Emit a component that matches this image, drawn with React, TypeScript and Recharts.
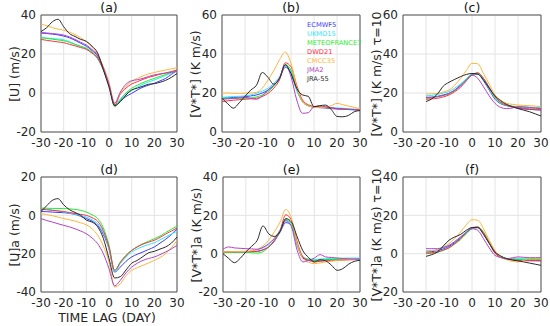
import React from "react";
import {
  CartesianGrid,
  Legend,
  Line,
  LineChart,
  ReferenceArea,
  XAxis,
  YAxis,
} from "recharts";

// lag axis (days)
const lags = [-30, -27.5, -25, -22.5, -20, -17.5, -15, -12.5, -10, -7.5, -5, -2.5, 0, 2.5, 5, 7.5, 10, 12.5, 15, 17.5, 20, 22.5, 25, 27.5, 30];
const lagsTau = [-20, -17.5, -15, -12.5, -10, -7.5, -5, -2.5, 0, 2.5, 5, 7.5, 10, 12.5, 15, 17.5, 20, 22.5, 25, 27.5, 30];
const xTicks = [-30, -20, -10, 0, 10, 20, 30];

const models = ["ECMWF5", "UKMO15", "METEOFRANCE7", "DWD21", "CMCC35", "JMA2", "JRA-55"];
const colors = ["#3b3bff", "#2ee6ff", "#1fef2a", "#ff3048", "#ffb53c", "#b443c4", "#2a2a2a"];

// rows follow the order of `models`
const uA = [
  [30.8, 30.5, 30.2, 29.8, 29.2, 28.3, 27, 25.5, 24, 21.8, 18.8, 12.5, 4, -6, -4, -1.8, -0.2, 1.5, 3, 4, 5, 6.2, 7.5, 9.5, 11.5],
  [28.5, 28.2, 27.9, 27.7, 27.3, 26.3, 25, 23.8, 22.5, 20.5, 17.5, 11.8, 4, -6.5, -3, -0.3, 1.5, 3, 4.5, 5.7, 6.7, 7.8, 9, 10.2, 11.5],
  [28.3, 28, 27.6, 27.2, 26.8, 26, 25, 24, 23, 21, 18, 12, 4, -7, -3.5, 0, 2.4, 4, 5.3, 6.5, 7.5, 8.5, 9.5, 10.6, 11.8],
  [27.5, 27, 26.6, 26.2, 25.8, 25, 24.2, 23.3, 22.4, 20.5, 17.8, 12, 4, -6.2, -0.5, 2.5, 4.6, 5.8, 7, 8, 8.8, 9.6, 10.3, 11, 11.8],
  [35.4, 34.5, 33.5, 32.8, 32.2, 31.2, 30, 28.3, 26.3, 23.5, 19.8, 13.5, 5.5, -5.2, 0, 3.5, 6, 7.5, 8.8, 9.8, 10.5, 11.2, 11.8, 12.4, 13],
  [31, 30.8, 30.5, 30.2, 29.7, 28.8, 27.5, 26, 24.6, 22.3, 19.3, 13, 4.5, -5.3, 0.5, 4.5, 6.3, 6.8, 7.5, 8.5, 9.3, 9.8, 10.2, 10.6, 11],
  [31.5, 33.5, 36.5, 37.8, 34, 30.5, 29, 27.5, 26.5, 24, 20.5, 12, 3, -6.5, -4.5, -1, 1.5, 2.5, 3.5, 4.5, 4.8, 5.5, 6.5, 8, 10],
];

const vtB = [
  [17.3, 17.5, 17.7, 17.9, 18.1, 18.5, 19, 20, 21.5, 24, 27.5, 33.2, 30, 21.5, 15.6, 13.5, 12.7, 12.5, 12.3, 12, 11.8, 11.6, 11.5, 11.4, 11.3],
  [17.8, 18, 18.2, 18.3, 18.5, 19, 19.8, 21, 22.4, 25, 28.4, 33.5, 31, 21.5, 15.6, 13.5, 13, 12.8, 12.6, 12.4, 12.3, 12.2, 12, 11.8, 11.6],
  [17.3, 17.3, 17.3, 17.3, 17.3, 17.5, 18, 19, 20.7, 23.5, 27.5, 34.7, 31.8, 22.4, 15.6, 13.5, 13, 12.7, 12.5, 12.2, 12, 11.8, 11.6, 11.5, 11.3],
  [15.6, 16, 16.3, 16.6, 16.8, 17, 17.3, 18.2, 19.8, 22.5, 26.7, 35.5, 33.5, 24, 16.4, 14, 13, 12.7, 12.5, 12.3, 12, 11.8, 11.6, 11.5, 11.3],
  [19.8, 20, 19.8, 19.8, 19.9, 20, 20.3, 22.5, 26.7, 31.5, 37, 41, 35.2, 23.2, 15.6, 13.5, 12.7, 12.5, 12.7, 13.5, 14.7, 14, 13.3, 12.6, 12],
  [16.8, 17, 17.2, 17.5, 17.8, 17.2, 16.8, 18.5, 21.5, 24, 27.5, 34.4, 28.4, 16.4, 9.6, 9.9, 13, 13.3, 13, 12.5, 12, 11.8, 11.6, 11.4, 11.3],
  [17.3, 14.5, 12.2, 15, 18.3, 21.5, 24, 30.5, 28, 24.5, 27.5, 34.4, 30, 22.4, 19, 18.3, 13, 13.5, 13.8, 11.5, 8, 7.8, 8.5, 10.4, 11],
];

const vtC = [
  [17.6, 17.8, 18.3, 19, 19.8, 21.5, 24.1, 27, 29.2, 29.6, 26.3, 21.5, 16.8, 14.5, 13.5, 12.8, 12.2, 11.8, 11.6, 11.4, 11.3],
  [18.5, 18.8, 19.3, 20, 20.7, 22.5, 24.6, 27.3, 29.6, 29.7, 26.7, 22, 17.3, 14.8, 13.8, 13.3, 13, 12.8, 12.7, 12.6, 12.5],
  [17.3, 17.6, 18.1, 18.7, 19.5, 21.2, 23.6, 26.8, 29.6, 30.1, 27.5, 22.8, 17.8, 15, 13.8, 13.1, 12.7, 12.5, 12.3, 12.1, 12],
  [16.8, 17, 17.3, 18, 19, 20.7, 22.9, 26.2, 29.2, 30.4, 27.5, 22.8, 18.1, 15.3, 13.8, 13, 12.5, 12.1, 11.8, 11.5, 11.3],
  [19.5, 19.6, 19.8, 20.5, 21.5, 24, 27.5, 31.5, 35.2, 35, 30, 24.5, 19, 16.3, 14.7, 14.2, 13.8, 13.6, 13.5, 13.3, 13],
  [17.8, 17.9, 18.1, 18.8, 19.8, 21.5, 23.6, 26.5, 29.2, 27.5, 23.2, 18.5, 14.7, 12.6, 12, 12.3, 13, 12.9, 12.6, 12.3, 12],
  [15.6, 17, 19.5, 23.5, 25.5, 27, 28.4, 29.5, 30, 29.7, 26.7, 22.5, 18.5, 16, 14.2, 13, 12, 11.2, 10.4, 9.3, 8.2],
];

const uD = [
  [2, 1.9, 1.7, 1.5, 1.4, 1, 0.5, -0.5, -1.7, -3, -5.2, -10, -17.4, -29.6, -27, -24, -21.7, -20.3, -19.1, -17.8, -16.5, -14.5, -12.5, -10, -7],
  [3.5, 3.2, 2.8, 2.3, 1.7, 1.2, 0.6, -0.1, -0.9, -2.3, -4.3, -9, -17.4, -29.6, -25.2, -21.8, -19.1, -17.5, -16.2, -15.2, -14.3, -12.8, -11.2, -9.8, -8.3],
  [3.8, 3.7, 3.6, 3.6, 3.5, 3.4, 3.1, 2.6, 1.7, 0.3, -1.7, -6.5, -15.7, -28.7, -24.3, -20.8, -18.3, -16.3, -14.8, -13.5, -12.2, -10.8, -9, -7.3, -5.6],
  [3.1, 2.9, 2.6, 2.3, 2, 1.5, 1, 0.5, 0, -1.2, -3.1, -8, -16.5, -28.7, -24.6, -21, -18.3, -16.5, -15, -14, -13, -11.5, -9.8, -8.2, -6.6],
  [0.9, 0.4, -0.2, -0.9, -1.7, -2.3, -3, -3.9, -4.9, -7, -10.4, -16, -24.3, -37.4, -35.7, -31.5, -28.7, -27.3, -26.1, -24.8, -23.5, -22, -20, -17, -13],
  [-1.7, -2.7, -3.5, -4.4, -5.2, -6, -7, -8.2, -9.6, -11.8, -14.8, -20, -27.8, -36.8, -33.9, -30, -27, -25, -23.5, -22.5, -21.7, -20.5, -19.1, -17.5, -15.7],
  [2, 5, 7.8, 8.7, 5.5, 3, 1.5, 0, -2.5, -3.5, -6, -12, -22.6, -32.7, -32, -28.5, -25, -23.5, -21.5, -19.5, -18.8, -17.6, -16.5, -14.5, -11.3],
];

const vtE = [
  [0.5, 0.7, 0.8, 0.9, 0.9, 1, 1.2, 2, 3.5, 6.5, 11.3, 16.2, 14.8, 4.3, -2.3, -3.5, -3.5, -3.3, -3.2, -3, -3, -3, -3, -2.8, -2.6],
  [0.9, 1, 1.1, 1.2, 1.2, 1.5, 2, 3, 4.7, 8, 12.2, 16.9, 14.8, 4.3, -1.7, -2.8, -3, -2.8, -2.6, -2.5, -2.4, -2.4, -2.3, -2.3, -2.3],
  [0.5, 0.6, 0.7, 0.7, 0.8, 0.5, 0.3, 1, 3.5, 7, 11.3, 17.9, 15.7, 5.2, -1.7, -3, -3.5, -3.3, -3.2, -3.1, -3, -3, -3, -3, -3],
  [0.9, 1, 1, 1, 1, 1.1, 1.2, 2, 3.5, 7, 12.2, 20.3, 17.4, 6.1, -1.7, -3.5, -4.3, -4, -3.7, -3.6, -3.5, -3.4, -3.2, -3.1, -3],
  [0.9, 1, 1.1, 1.1, 1.2, 1.5, 2.3, 4, 7, 11.5, 16.5, 23.1, 18.3, 5.2, -2.6, -4.5, -5.2, -4.8, -4.3, -3.9, -3.5, -3.3, -3.2, -3.1, -3],
  [2.3, 3.5, 3, 2.8, 2.6, 2.5, 2.3, 3.3, 5.2, 8, 12.2, 17.4, 13.9, 1.7, -4.3, -3.5, -2.3, -0.5, -1.7, -2, -2.3, -2.5, -2.7, -2.8, -3],
  [0, -2.5, -4.7, -2.5, 0.9, 3.8, 7, 14.5, 10.4, 9, 11.5, 18.3, 16.5, 8.7, 1.5, -2, -4.3, -3.2, -3.8, -6, -8.7, -7.8, -5.5, -4, -3.5],
];

const vtF = [
  [0.9, 1.1, 1.5, 2.5, 3.8, 5.8, 8.2, 11, 13.2, 13.6, 10.5, 5.5, 0.3, -1.8, -2.8, -3.1, -3.3, -3.4, -3.5, -3.5, -3.5],
  [1.4, 1.6, 2, 3, 4.3, 6.3, 8.7, 11.5, 13.6, 13.9, 11, 5.8, 0.9, -1.5, -2.4, -2.6, -2.6, -2.6, -2.6, -2.6, -2.6],
  [0, 0.2, 0.7, 1.7, 3, 5, 7.3, 10.3, 13, 13.9, 11.3, 6, 0.9, -1.6, -2.6, -3, -3.1, -3.1, -3.1, -3.1, -3.1],
  [0.3, 0.5, 0.9, 1.9, 3.1, 5.3, 7.8, 11, 13.6, 13.9, 10.8, 5.7, 0.3, -2, -2.8, -3.2, -3.5, -3.6, -3.7, -3.8, -3.8],
  [1.4, 1.6, 2.1, 3.5, 5.2, 8, 11.3, 15, 17.7, 17.4, 13, 7, 1.7, -1.8, -3.1, -4, -4.3, -3.5, -2.6, -2.6, -2.6],
  [2.6, 2.6, 2.6, 3.3, 4.3, 6.3, 8.7, 11, 13, 12.2, 7.8, 3, -0.9, -2, -2.6, -2.2, -1.7, -1.9, -2.1, -2.1, -2.1],
  [-1.4, -0.5, 0.9, 4, 7, 8.7, 10, 12.2, 13.6, 13.6, 10, 5.3, 0.9, -1.2, -2.6, -3.3, -3.8, -4.3, -4.9, -5.5, -6.1],
];

const FONT = "'DejaVu Sans', sans-serif";
const Y_W = 36;
const X_H = 22;
const R_M = 14;

const panels = [
  { title: "(a)", ylabel: "[U] (m/s)", x: lags, vals: uA, dom: [-20, 40], ticks: [-20, 0, 20, 40], left: 41, top: 15, w: 136, h: 117 },
  { title: "(b)", ylabel: "[V*T*] (K m/s)", x: lags, vals: vtB, dom: [0, 60], ticks: [0, 20, 40, 60], left: 222, top: 15, w: 138, h: 117, legend: true },
  { title: "(c)", ylabel: "[V*T*] (K m/s) \u03c4=10", x: lagsTau, vals: vtC, dom: [0, 60], ticks: [0, 20, 40, 60], left: 403, top: 15, w: 138, h: 117 },
  { title: "(d)", ylabel: "[U]a (m/s)", x: lags, vals: uD, dom: [-40, 20], ticks: [-40, -20, 0, 20], left: 41, top: 177, w: 136, h: 115, xlabel: "TIME LAG (DAY)" },
  { title: "(e)", ylabel: "[V*T*]a (K m/s)", x: lags, vals: vtE, dom: [-20, 40], ticks: [-20, 0, 20, 40], left: 223, top: 177, w: 137, h: 115 },
  { title: "(f)", ylabel: "[V*T*]a (K m/s) \u03c4=10", x: lagsTau, vals: vtF, dom: [-20, 40], ticks: [-20, 0, 20, 40], left: 403, top: 177, w: 138, h: 115 },
];

function LegendBox() {
  return (
    <div style={{ fontFamily: FONT, fontSize: 6.7, lineHeight: "9px" }}>
      {models.map((m, i) => (
        <div key={m} style={{ color: colors[i], whiteSpace: "nowrap" }}>
          {m}
        </div>
      ))}
    </div>
  );
}

function Panel({ p }: { p: any }) {
  const rows = p.x.map((lag: number, i: number) => {
    const r: any = { lag };
    models.forEach((m, k) => (r[m] = p.vals[k][i]));
    return r;
  });
  const cl = p.left - Y_W;
  const ct = p.top - 16;
  const tick = { fontSize: 12, fill: "#262626", fontFamily: FONT };

  return (
    <>
      <div style={{ position: "absolute", left: cl, top: ct }}>
        <LineChart
          width={Y_W + p.w + R_M}
          height={16 + p.h + X_H}
          data={rows}
          margin={{ top: 16, right: R_M, bottom: 0, left: 0 }}
        >
          <CartesianGrid stroke="#e4e4e4" />
          <XAxis
            dataKey="lag"
            type="number"
            domain={[-30, 30]}
            ticks={xTicks}
            interval={0}
            allowDataOverflow
            tickLine={false}
            axisLine={false}
            tickSize={0}
            tickMargin={6}
            height={X_H}
            tick={tick}
          />
          <YAxis
            type="number"
            domain={p.dom}
            ticks={p.ticks}
            interval={0}
            allowDataOverflow
            tickLine={false}
            axisLine={false}
            tickSize={0}
            tickMargin={5}
            width={Y_W}
            tick={tick}
          />
          <ReferenceArea
            x1={-30}
            x2={30}
            y1={p.dom[0]}
            y2={p.dom[1]}
            fill="none"
            stroke="#555"
            strokeWidth={1}
          />
          {models.map((m, i) => (
            <Line
              key={m}
              dataKey={m}
              type="monotone"
              stroke={colors[i]}
              strokeWidth={1}
              dot={false}
              activeDot={false}
              isAnimationActive={false}
            />
          ))}
          {p.legend && (
            <Legend
              layout="vertical"
              align="center"
              verticalAlign="middle"
              content={<LegendBox />}
              wrapperStyle={{ left: 307 - cl, top: 21 - ct, right: "auto", bottom: "auto", width: "auto", height: "auto" }}
            />
          )}
        </LineChart>
      </div>
      <div
        style={{
          position: "absolute",
          left: p.left + p.w / 2,
          top: p.top - 8,
          transform: "translate(-50%, -50%)",
          fontSize: 12.5,
          color: "#111",
          whiteSpace: "nowrap",
        }}
      >
        {p.title}
      </div>
      <div
        style={{
          position: "absolute",
          left: p.left - 27,
          top: p.top + p.h / 2,
          transform: "translate(-50%, -50%) rotate(-90deg)",
          fontSize: 12.5,
          color: "#262626",
          whiteSpace: "nowrap",
        }}
      >
        {p.ylabel}
      </div>
      {p.xlabel && (
        <div
          style={{
            position: "absolute",
            left: p.left + p.w / 2 - 2,
            top: 317,
            transform: "translate(-50%, -50%)",
            fontSize: 12.5,
            color: "#262626",
            whiteSpace: "nowrap",
          }}
        >
          {p.xlabel}
        </div>
      )}
    </>
  );
}

export default function App() {
  return (
    <div
      style={{
        position: "absolute",
        left: 0,
        top: 0,
        width: 550,
        height: 326,
        background: "#fff",
        fontFamily: FONT,
        overflow: "hidden",
      }}
    >
      {panels.map((p) => (
        <Panel key={p.title} p={p} />
      ))}
    </div>
  );
}
